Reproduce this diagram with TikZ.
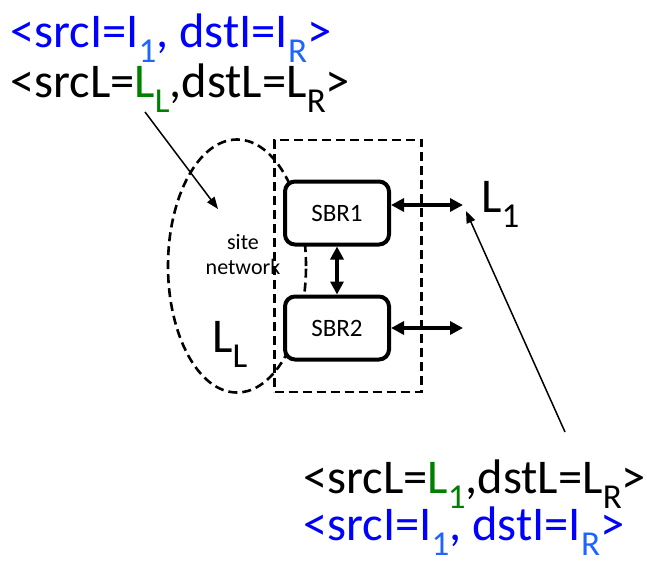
\documentclass[tikz,border=0pt]{standalone}
\usepackage{fontspec}
\setmainfont{Carlito}
\usetikzlibrary{arrows.meta,shapes.geometric}
\definecolor{mblue}{RGB}{0,0,255}
\definecolor{sblue}{RGB}{30,100,255}
\definecolor{mgreen}{RGB}{0,128,0}
\newcommand\sbs[1]{\raisebox{-15pt}{\fontsize{35}{35}\selectfont #1}}
\tikzset{
  big/.style={inner sep=0pt, anchor=base west, font=\fontsize{48.5}{50}\selectfont},
  sbr/.style={draw, line width=4pt, rounded corners=10pt, minimum width=104pt, minimum height=63pt, inner sep=0pt, font=\fontsize{25}{27}\selectfont},
  dsh/.style={dash pattern=on 9pt off 5pt, line width=2.6pt},
  thick2/.style={line width=3.8pt, {Triangle[length=13pt,width=13pt]}-{Triangle[length=13pt,width=13pt]}},
  thin1/.style={line width=1.5pt, -{Triangle[length=12pt,width=9pt]}},
}
\begin{document}
\begin{tikzpicture}[x=1pt,y=-1pt]
\useasboundingbox (0,0) rectangle (647,570);
% top texts
\node[big, text=mblue] (t1) at (10,47) {<srcI=I\textcolor{sblue}{\sbs{1}}, dstI=I\textcolor{sblue}{\sbs{R}}>};
\node[big] (t2) at (10,97) {<srcL=\textcolor{mgreen}{L\sbs{L}},dstL=L\sbs{R}>};
% bottom texts
\node[big] (b1) at (303,493) {<srcL=\textcolor{mgreen}{L\sbs{1}},dstL=L\sbs{R}>};
\node[big, text=mblue] (b2) at (303,540) {<srcI=I\textcolor{sblue}{\sbs{1}}, dstI=I\textcolor{sblue}{\sbs{R}}>};
% site network ellipse
\node[draw, dsh, ellipse, minimum width=138pt, minimum height=253pt, inner sep=0pt] (site) at (237,266) {};
\node[font=\fontsize{22}{25}\selectfont, align=center, inner sep=0pt] (sitet) at (243,255) {site\\network};
\node[big] (LL) at (212,352) {L\sbs{L}};
% dashed rectangle
\node[draw, dsh, minimum width=147pt, minimum height=252pt, inner sep=0pt] (rect) at (348,266) {};
% SBRs
\node[sbr, fill=white] (s1) at (337,213) {SBR1};
\node[sbr, fill=white] (s2) at (337,328) {SBR2};
\draw[thick2] (s1.south) -- (s2.north);
\coordinate (r1) at (463,205);
\coordinate (r2) at (463,328);
\draw[thick2] (s1.east |- r1) -- (r1);
\draw[thick2] (s2.east) -- (r2);
\node[big] (L1) at (481,212) {L\sbs{1}};
% thin arrows
\coordinate (a1s) at (145,112);
\coordinate (a1e) at (218,209);
\draw[thin1] (a1s) -- (a1e);
\coordinate (a2s) at (565,432);
\coordinate (a2e) at (466,211);
\draw[thin1] (a2s) -- (a2e);
\end{tikzpicture}
\end{document}
